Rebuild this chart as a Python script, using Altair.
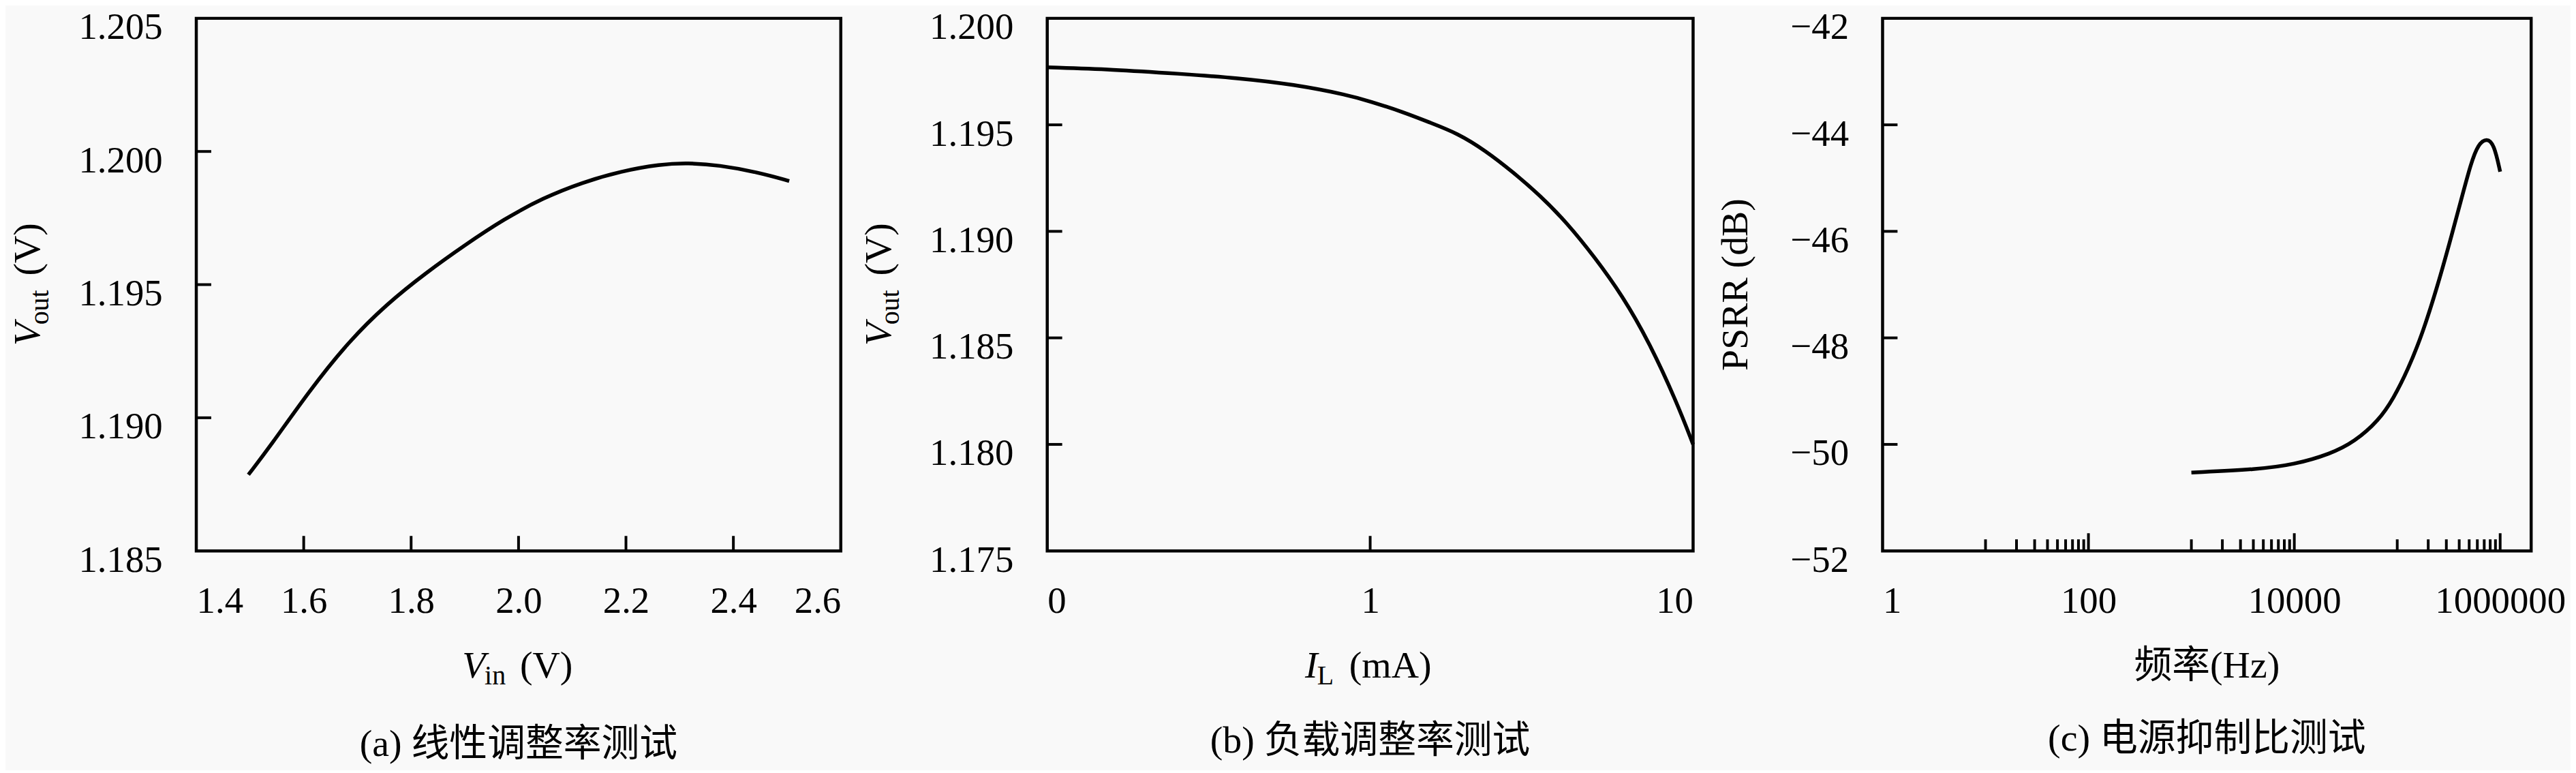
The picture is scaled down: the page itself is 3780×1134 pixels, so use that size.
import altair as alt
import pandas as pd

# ---------------- data ----------------
# (a) line regulation
VIN = [1.497, 1.537, 1.610, 1.683, 1.755, 1.828, 1.901, 1.973, 2.046, 2.119,
       2.191, 2.264, 2.315, 2.373, 2.446, 2.504]
VOUT_A = [1.18786, 1.18891, 1.19100, 1.19285, 1.19428, 1.19545, 1.19650, 1.19746,
          1.19826, 1.19884, 1.19926, 1.19952, 1.19957, 1.19949, 1.19922, 1.19889]
# (b) load regulation
IL = [0.1, 0.16, 0.255, 0.39, 0.58, 0.855, 1.0, 1.265, 1.535, 1.866, 2.27, 2.76,
      3.35, 4.07, 4.95, 6.03, 7.31, 8.89, 10.0]
VOUT_B = [1.1977, 1.1976, 1.1974, 1.1972, 1.1969, 1.1964, 1.1961, 1.1956, 1.1951,
          1.1946, 1.1938, 1.1928, 1.1917, 1.1904, 1.1888, 1.1870, 1.1848, 1.1820, 1.1800]
# (c) PSRR
FREQ = [1000, 4416, 9930, 22440, 38550, 66220, 91830, 127000, 175800, 243200,
        319200, 418800, 520000, 612400, 741300, 871000, 1000000]
PSRR = [-50.53, -50.47, -50.38, -50.18, -49.95, -49.55, -49.14, -48.60, -47.92,
        -47.06, -46.25, -45.40, -44.72, -44.36, -44.25, -44.36, -44.88]

# axis labels / ticks
A_XLABELS = [1.4, 1.6, 1.8, 2.0, 2.2, 2.4, 2.6]
A_YLABELS = [1.185, 1.190, 1.195, 1.200, 1.205]
A_XTICKS = [1.6, 1.8, 2.0, 2.2, 2.4]
A_YTICKS = [1.190, 1.195, 1.200]
B_XLABELS = [0.1, 1, 10]
B_YLABELS = [1.175, 1.180, 1.185, 1.190, 1.195, 1.200]
B_XTICKS = [1]
B_YTICKS = [1.180, 1.185, 1.190, 1.195]
C_XLABELS = [1, 100, 10000, 1000000]
C_YLABELS = [-52, -50, -48, -46, -44, -42]
C_XMAJOR = [100, 10000, 1000000]
C_XMINOR = [10, 20, 30, 40, 50, 60, 70, 80, 90,
            1000, 2000, 3000, 4000, 5000, 6000, 7000, 8000, 9000,
            100000, 200000, 300000, 400000, 500000, 600000, 700000, 800000, 900000]
C_YTICKS = [-50, -48, -46, -44]

CAPTIONS = ["(a) 线性调整率测试", "(b) 负载调整率测试", "(c) 电源抑制比测试"]

# ---------------- style ----------------
SERIF = "Liberation Serif, Times New Roman, Tinos, DejaVu Serif, serif"
MIXED = "Liberation Serif, Times New Roman, Tinos, Noto Sans CJK SC, serif"
H = 784
WA, WB, WC = 949, 951, 955
LBL = 55
TF = 56
SUB = 40
ONE = pd.DataFrame({"o": [0]})


def xaxis(values, fmt=None, expr=None):
    kw = dict(values=values, ticks=False, tickSize=0, domain=False, grid=False,
              labelPadding=48, labelFontSize=LBL, labelFont=SERIF, labelColor="black",
              labelOverlap=False, labelLimit=1000, title=None)
    if fmt:
        kw["format"] = fmt
    if expr:
        kw["labelExpr"] = expr
    return alt.Axis(**kw)


def yaxis(values, fmt):
    return alt.Axis(values=values, format=fmt, ticks=False, tickSize=0, domain=False,
                    grid=False, labelPadding=50, labelOffset=13, labelFontSize=LBL,
                    labelFont=SERIF, labelColor="black", labelOverlap=False,
                    labelLimit=1000, title=None)


def txt(s, x, y, size=TF, italic=False, angle=0, align="left", font=SERIF):
    kw = dict(text=s, fontSize=size, font=font, align=align, baseline="alphabetic",
              color="black", angle=angle)
    if italic:
        kw["fontStyle"] = "italic"
    return alt.Chart(ONE).mark_text(**kw).encode(x=alt.value(x), y=alt.value(y))


def panel(W, df, xf, yf, xs, ys, xax, yax, xticks, yticks, texts, xmajor=None):
    X = lambda f: alt.X(f"{f}:Q", scale=xs, axis=xax)
    Y = lambda f: alt.Y(f"{f}:Q", scale=ys, axis=yax)
    line = alt.Chart(df).mark_line(color="black", strokeWidth=5.5,
                                   interpolate="basis").encode(x=X(xf), y=Y(yf))
    layers = [line]
    tlen = 17 if xmajor else 22
    layers.append(alt.Chart(pd.DataFrame({"t": xticks})).mark_rule(color="black", strokeWidth=4)
                  .encode(x=X("t"), y=alt.value(H), y2=alt.value(H - tlen)))
    if xmajor:
        layers.append(alt.Chart(pd.DataFrame({"t": xmajor})).mark_rule(color="black", strokeWidth=4)
                      .encode(x=X("t"), y=alt.value(H), y2=alt.value(H - 26)))
    layers.append(alt.Chart(pd.DataFrame({"t": yticks})).mark_rule(color="black", strokeWidth=4)
                  .encode(y=Y("t"), x=alt.value(0), x2=alt.value(22)))
    layers += texts
    return alt.layer(*layers).properties(width=W, height=H)


XB = H + 186  # baseline of x-axis titles
cy = H / 2

# ---- panel (a)
cxa = WA / 2
texts_a = [
    txt("V", cxa - 83, XB, italic=True),
    txt("in", cxa - 50, XB + 11, size=SUB),
    txt("(V)", cxa + 2, XB),
    txt("V", -231, cy + 90, italic=True, angle=270),
    txt("out", -218, cy + 59, size=SUB, angle=270),
    txt("(V)", -231, cy - 13, angle=270),
    txt(CAPTIONS[0], cxa, H + 302, align="center", font=MIXED),
]
pa = panel(WA, pd.DataFrame({"vin": VIN, "vout": VOUT_A}), "vin", "vout",
           alt.Scale(domain=[1.4, 2.6], nice=False, zero=False),
           alt.Scale(domain=[1.185, 1.205], nice=False, zero=False),
           xaxis(A_XLABELS, fmt=".1f"), yaxis(A_YLABELS, ".3f"),
           A_XTICKS, A_YTICKS, texts_a)

# ---- panel (b)
cxb = WB / 2
texts_b = [
    txt("I", cxb - 96, XB, italic=True),
    txt("L", cxb - 78, XB + 11, size=SUB),
    txt("(mA)", cxb - 31, XB),
    txt("V", -231, cy + 90, italic=True, angle=270),
    txt("out", -218, cy + 59, size=SUB, angle=270),
    txt("(V)", -231, cy - 13, angle=270),
    txt(CAPTIONS[1], cxb, H + 297, align="center", font=MIXED),
]
pb = panel(WB, pd.DataFrame({"il": IL, "vout": VOUT_B}), "il", "vout",
           alt.Scale(type="log", domain=[0.1, 10], nice=False),
           alt.Scale(domain=[1.175, 1.200], nice=False, zero=False),
           xaxis(B_XLABELS, expr="datum.value < 0.5 ? '0' : format(datum.value, 'd')"),
           yaxis(B_YLABELS, ".3f"),
           B_XTICKS, B_YTICKS, texts_b)

# ---- panel (c)
cxc = WC / 2
texts_c = [
    txt("频率(Hz)", cxc, XB, align="center", font=MIXED),
    txt("PSRR (dB)", -199, cy, angle=270, align="center"),
    txt(CAPTIONS[2], cxc, H + 294, align="center", font=MIXED),
]
pc = panel(WC, pd.DataFrame({"f": FREQ, "p": PSRR}), "f", "p",
           alt.Scale(type="log", domain=[1, 2000000], nice=False),
           alt.Scale(domain=[-52, -42], nice=False, zero=False),
           xaxis(C_XLABELS, fmt="d"), yaxis(C_YLABELS, "d"),
           C_XMINOR, C_YTICKS, texts_c, xmajor=C_XMAJOR)


def spacer(w):
    return (alt.Chart(ONE).mark_point(opacity=0)
            .encode(x=alt.value(0), y=alt.value(0))
            .properties(width=w, height=H, view=alt.ViewBackground(strokeOpacity=0)))


chart = (alt.hconcat(pa, spacer(304), pb, spacer(279), pc, spacing=0, bounds="flush")
         .configure_view(stroke="black", strokeWidth=4.5)
         .properties(padding={"left": 2, "top": 0, "right": 5, "bottom": 5},
                     background="#f9f9f9"))

chart.save("out.html", embed_options={"renderer": "svg", "actions": False})
